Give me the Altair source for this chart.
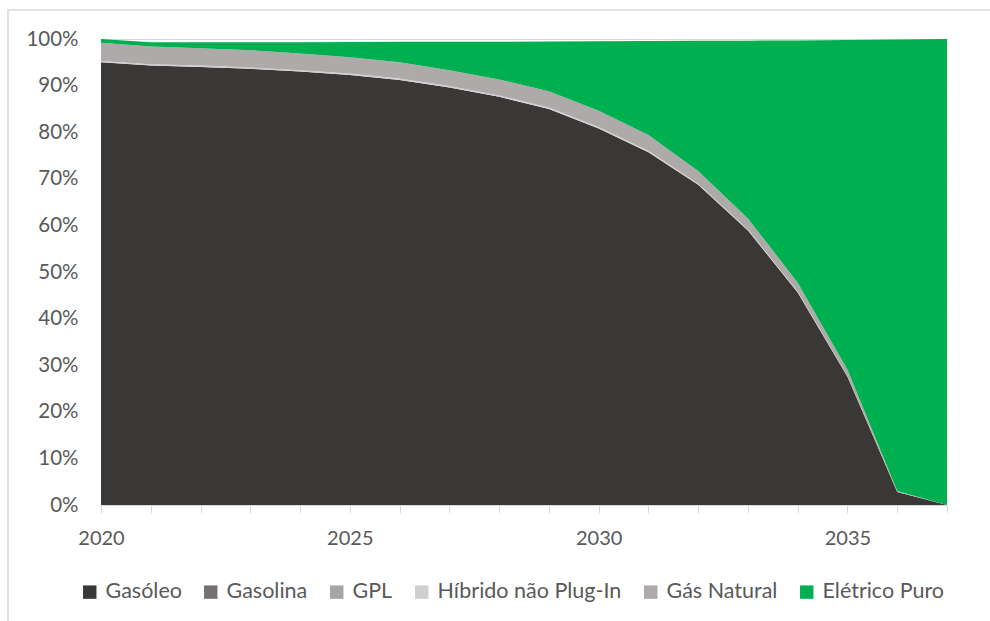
import altair as alt
import pandas as pd

# Fleet share by fuel type (%), 2020-2037
years = list(range(2020, 2038))
series = ["Gasóleo", "Gasolina", "GPL", "Híbrido não Plug-In", "Gás Natural", "Elétrico Puro"]
colors = ["#3A3836", "#767171", "#A5A5A5", "#D0CECE", "#AEAAAA", "#00B050"]

gasoleo = [95.0, 94.3, 94.0, 93.6, 93.0, 92.3, 91.2, 89.6, 87.6, 85.0, 80.8, 75.7, 68.7, 58.9, 45.6, 27.5, 2.8, 0.0]
gasolina = [0.0] * 18
gpl = [0.0] * 18
hibrido = [0.3, 0.3, 0.3, 0.3, 0.3, 0.3, 0.3, 0.3, 0.3, 0.3, 0.3, 0.3, 0.25, 0.2, 0.2, 0.15, 0.05, 0.0]
gas_natural = [3.9, 3.8, 3.7, 3.7, 3.6, 3.5, 3.5, 3.4, 3.4, 3.5, 3.5, 3.4, 2.75, 2.4, 1.9, 1.35, 0.15, 0.0]
eletrico = [0.8, 0.9, 1.3, 1.7, 2.4, 3.25, 4.4, 6.1, 8.1, 10.65, 14.9, 20.15, 27.9, 38.15, 52.0, 70.8, 96.9, 100.0]

values = [gasoleo, gasolina, gpl, hibrido, gas_natural, eletrico]
rows = []
for i, (name, vals) in enumerate(zip(series, values)):
    for y, v in zip(years, vals):
        rows.append({"ano": y, "tipo": name, "ordem": i, "valor": v})
df = pd.DataFrame(rows)

FONT = "Lato"
GREY_TXT = "#595959"
GREY_LINE = "#D9D9D9"
W, H = 846, 466
PAD = {"left": 101, "top": 39, "right": 43, "bottom": 116}

areas = alt.Chart(df).mark_area(opacity=1).encode(
    x=alt.X(
        "ano:Q",
        scale=alt.Scale(domain=[2020, 2037], nice=False, zero=False),
        axis=alt.Axis(
            title=None,
            values=years,
            labelExpr="datum.value % 5 == 0 ? datum.value : ''",
            grid=False,
            domainColor=GREY_LINE,
            tickColor=GREY_LINE,
            tickSize=8,
            labelPadding=15,
            labelFont=FONT,
            labelFontSize=20,
            labelColor=GREY_TXT,
            labelFlush=False,
        ),
    ),
    y=alt.Y(
        "valor:Q",
        stack="zero",
        scale=alt.Scale(domain=[0, 100], nice=False),
        axis=alt.Axis(
            title=None,
            values=list(range(0, 101, 10)),
            labelExpr="datum.value + '%'",
            grid=True,
            gridColor=GREY_LINE,
            domain=False,
            ticks=False,
            labelPadding=23,
            labelFont=FONT,
            labelFontSize=20.5,
            labelColor=GREY_TXT,
        ),
    ),
    color=alt.Color(
        "tipo:N",
        scale=alt.Scale(domain=series, range=colors),
        legend=alt.Legend(
            title=None,
            orient="none",
            direction="horizontal",
            columns=6,
            legendX=-22,
            legendY=542,
            symbolType="square",
            symbolSize=180,
            symbolStrokeWidth=0,
            symbolOpacity=1,
            labelFont=FONT,
            labelFontSize=21.5,
            labelColor=GREY_TXT,
            labelLimit=0,
            labelOffset=5,
            columnPadding=18,
        ),
    ),
    order=alt.Order("ordem:Q", sort="ascending"),
)

# outer frame around the chart
frame = alt.Chart(alt.Data(values=[{}])).mark_rect(
    fill=None, stroke=GREY_LINE, strokeWidth=1.5
).encode(
    x=alt.value(-93),
    x2=alt.value(W + PAD["right"] + 20),
    y=alt.value(-29),
    y2=alt.value(H + PAD["bottom"] + 20),
)

chart = alt.layer(areas, frame).properties(
    width=W,
    height=H,
    autosize=alt.AutoSizeParams(type="none"),
    padding=PAD,
    background="white",
).configure_view(stroke=None)

chart.save("out.html", embed_options={"renderer": "svg", "actions": False})
